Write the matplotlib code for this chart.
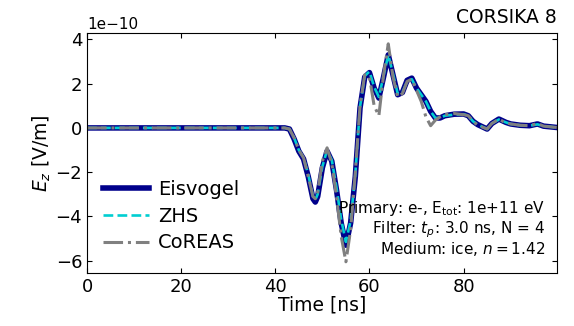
import matplotlib.pyplot as plt
import numpy as np

# sample times [ns]
t = [0, 42, 43, 44, 45, 46, 47, 48, 48.5, 49, 50, 51, 52, 53, 54, 55, 56, 57,
     58, 59, 60, 61, 62, 63, 64, 65, 66, 67, 68, 69, 70, 71, 72, 73, 74, 75,
     76, 78, 80, 81, 82, 83, 85, 86, 87.5, 89, 90, 92, 94, 95.7, 97, 99.8]

# E_z in units of 1e-10 V/m
eisvogel = [0, 0, -0.05, -0.5, -1.05, -1.4, -2.2, -3.2, -3.35, -3.1, -1.8, -1.05,
            -1.5, -2.8, -4.3, -5.3, -4.3, -2.2, 0.9, 2.3, 2.5, 1.8, 1.35, 2.3,
            3.3, 2.4, 1.5, 1.6, 2.15, 2.25, 1.8, 1.5, 1.2, 0.75, 0.45, 0.45,
            0.55, 0.62, 0.63, 0.55, 0.3, 0.15, -0.05, 0.2, 0.4, 0.25, 0.18, 0.12,
            0.1, 0.18, 0.08, 0.02]
zhs = [0, 0, -0.05, -0.45, -1.0, -1.35, -2.1, -3.1, -3.25, -3.0, -1.75, -1.0,
       -1.45, -2.7, -4.15, -5.15, -4.2, -2.1, 0.95, 2.35, 2.55, 1.85, 1.4, 2.35,
       3.3, 2.45, 1.55, 1.6, 2.1, 2.2, 1.8, 1.5, 1.2, 0.75, 0.45, 0.45,
       0.55, 0.6, 0.62, 0.55, 0.3, 0.15, -0.05, 0.2, 0.38, 0.25, 0.18, 0.12,
       0.1, 0.16, 0.08, 0.02]
coreas = [0, 0, -0.05, -0.45, -1.0, -1.35, -2.2, -3.1, -3.2, -2.9, -1.5, -0.9,
          -1.6, -3.1, -4.9, -6.05, -4.6, -2.0, 1.0, 2.4, 2.3, 1.0, 0.55, 2.4,
          3.8, 2.3, 1.4, 1.55, 2.1, 2.2, 1.7, 1.2, 0.5, 0.1, 0.35, 0.5,
          0.6, 0.65, 0.6, 0.55, 0.3, 0.12, -0.05, 0.2, 0.4, 0.22, 0.18, 0.12,
          0.1, 0.2, 0.08, 0.02]

t = np.array(t)
scale = 1e-10

fig = plt.figure(figsize=(5.74, 3.26), dpi=100)
ax = fig.add_axes([0.1516, 0.1635, 0.8184, 0.7355])

ax.plot(t, np.array(eisvogel) * scale, color='#00008b', lw=4, label='Eisvogel')
ax.plot(t, np.array(zhs) * scale, color='#00ced1', lw=1.9, ls='--', label='ZHS')
ax.plot(t, np.array(coreas) * scale, color='gray', lw=2.2, ls='-.', label='CoREAS')

ax.set_xlim(0, 99.8)
ax.set_xticks([0, 20, 40, 60, 80])
ax.set_yticks(np.arange(-6, 5, 2) * scale)
ax.tick_params(direction='in', top=True, right=True, labelsize=13)
ax.yaxis.get_offset_text().set_fontsize(11)
ax.set_xlabel('Time [ns]', fontsize=13.5, labelpad=0)
ax.set_ylabel('$E_z$ [V/m]', fontsize=13.5, labelpad=2)
ax.set_title('CORSIKA 8', loc='right', fontsize=13.5, pad=7)

ax.legend(loc='lower left', bbox_to_anchor=(0.0, 0.02), frameon=False,
          fontsize=14, handlelength=2.4, labelspacing=0.4, borderpad=0.3,
          handletextpad=0.45)

ax.text(0.975, 0.06,
        'Primary: e-, E$_\\mathrm{tot}$: 1e+11 eV\n'
        'Filter: $t_p$: 3.0 ns, N = 4\n'
        'Medium: ice, $n = 1.42$',
        transform=ax.transAxes, ha='right', va='bottom', fontsize=11,
        multialignment='right', linespacing=1.05)

fig.savefig('out.png', dpi=100)
